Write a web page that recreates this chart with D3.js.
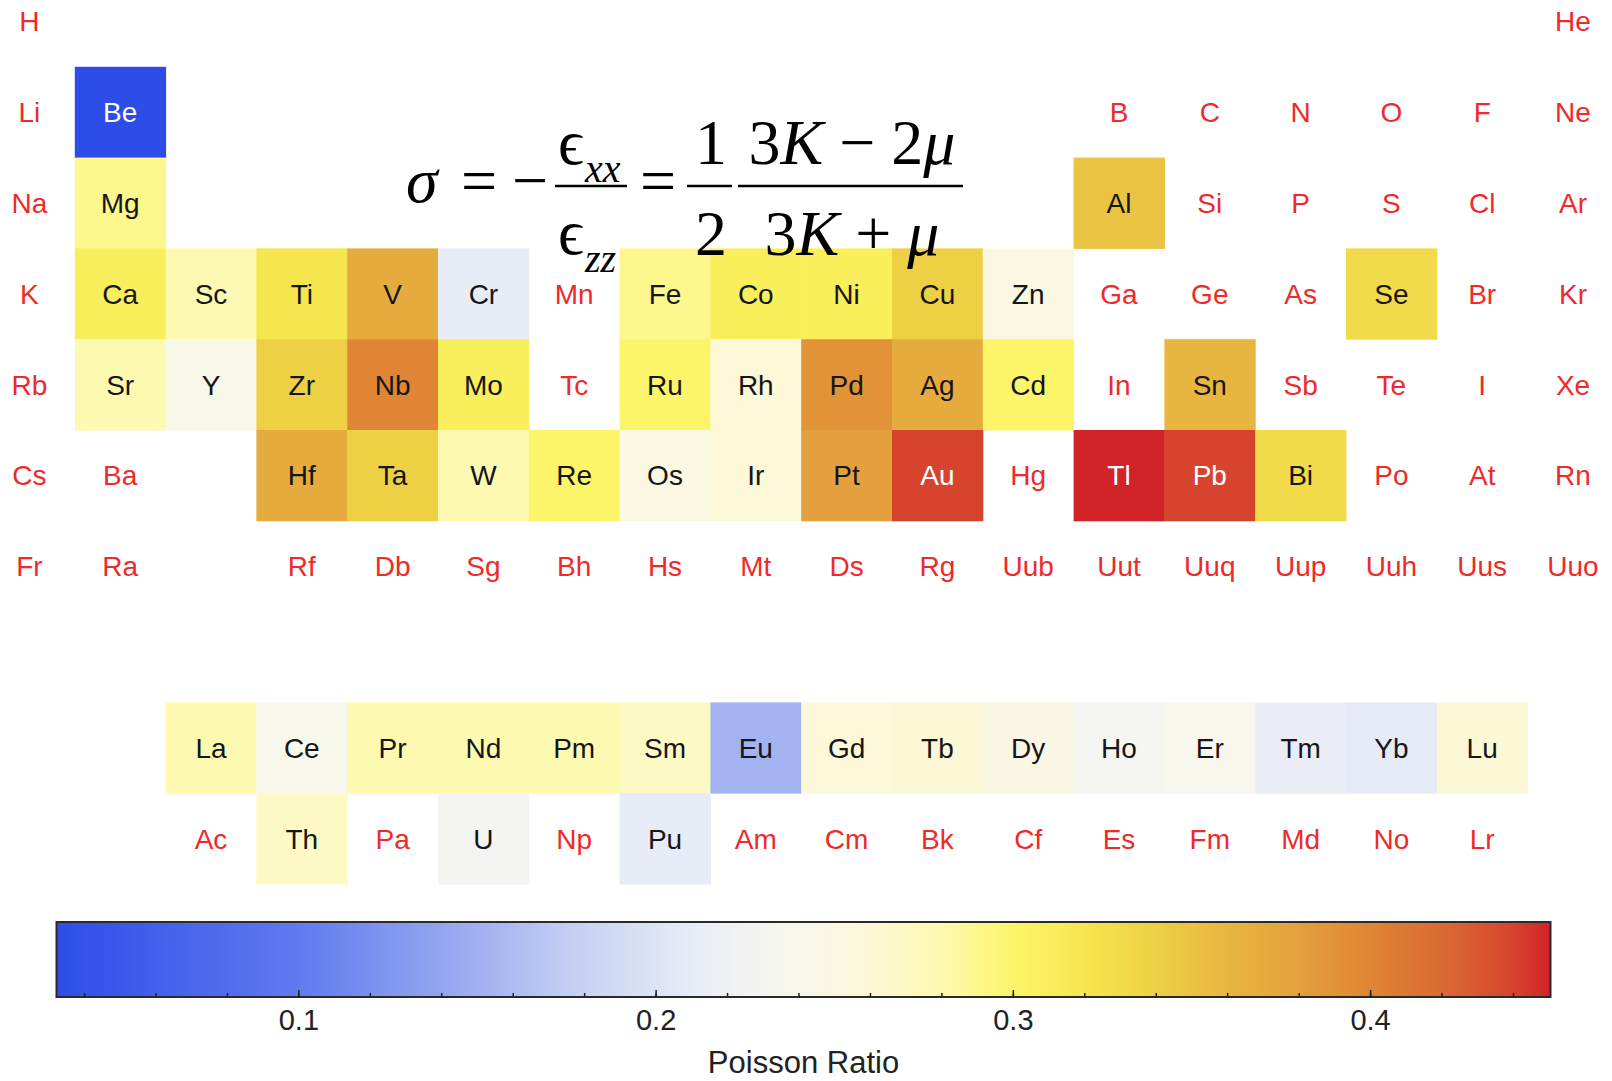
<!DOCTYPE html>
<html>
<head>
<meta charset="utf-8">
<script src="https://cdn.jsdelivr.net/npm/d3@7"></script>
<style>
  html, body { margin: 0; padding: 0; background: #fff; }
  svg { display: block; }
</style>
</head>
<body>
<svg id="chart" width="1612" height="1081"></svg>
<script>
// periodic table layout, "" = empty slot
const tableRows = [
  ["H","","","","","","","","","","","","","","","","","He"],
  ["Li","Be","","","","","","","","","","","B","C","N","O","F","Ne"],
  ["Na","Mg","","","","","","","","","","","Al","Si","P","S","Cl","Ar"],
  ["K","Ca","Sc","Ti","V","Cr","Mn","Fe","Co","Ni","Cu","Zn","Ga","Ge","As","Se","Br","Kr"],
  ["Rb","Sr","Y","Zr","Nb","Mo","Tc","Ru","Rh","Pd","Ag","Cd","In","Sn","Sb","Te","I","Xe"],
  ["Cs","Ba","","Hf","Ta","W","Re","Os","Ir","Pt","Au","Hg","Tl","Pb","Bi","Po","At","Rn"],
  ["Fr","Ra","","Rf","Db","Sg","Bh","Hs","Mt","Ds","Rg","Uub","Uut","Uuq","Uup","Uuh","Uus","Uuo"],
  [],
  ["","","La","Ce","Pr","Nd","Pm","Sm","Eu","Gd","Tb","Dy","Ho","Er","Tm","Yb","Lu",""],
  ["","","Ac","Th","Pa","U","Np","Pu","Am","Cm","Bk","Cf","Es","Fm","Md","No","Lr",""]
];

// Poisson ratio for the elements that have a value
const ratioSymbols = ["Be","Mg","Al","Ca","Sc","Ti","V","Cr","Fe","Co","Ni","Cu","Zn","Se",
  "Sr","Y","Zr","Nb","Mo","Ru","Rh","Pd","Ag","Cd","Sn",
  "Hf","Ta","W","Re","Os","Ir","Pt","Au","Tl","Pb","Bi",
  "La","Ce","Pr","Nd","Pm","Sm","Eu","Gd","Tb","Dy","Ho","Er","Tm","Yb","Lu",
  "Th","U","Pu"];
const ratioValues = [0.032,0.29,0.35,0.31,0.279,0.32,0.37,0.21,0.29,0.31,0.31,0.34,0.25,0.33,
  0.28,0.243,0.34,0.40,0.31,0.30,0.26,0.39,0.37,0.30,0.36,
  0.37,0.34,0.28,0.30,0.25,0.26,0.38,0.44,0.45,0.44,0.33,
  0.28,0.24,0.28,0.28,0.28,0.27,0.152,0.259,0.261,0.247,0.231,0.237,0.213,0.207,0.261,
  0.27,0.23,0.21];

// colour bar
const barDomain = [0.0323, 0.4505];
const majorTicks = [0.1, 0.2, 0.3, 0.4];
const minorTicks = d3.range(0.04, 0.45, 0.02);
const barTitle = "Poisson Ratio";

const rampStops = [0.0323,0.10,0.15,0.18,0.21,0.235,0.26,0.28,0.30,0.32,0.34,0.36,0.38,0.40,0.42,0.44,0.4505];
const rampColors = ["#2d4de9","#5f7bee","#a0b0f0","#c8d3f3","#e8ecf6","#f7f7f0","#fcf8d8","#fdf9b0",
  "#fcf56a","#f6e64e","#eed045","#e8b640","#e4a03c","#df8534","#db6a32","#d6442e","#d22228"];

const svg = d3.select("#chart");

const ratioOf = new Map(ratioSymbols.map((s, i) => [s, ratioValues[i]]));
const color = d3.scaleLinear().domain(rampStops).range(rampColors).interpolate(d3.interpolateRgb).clamp(true);

const step = 90.8;
const x = d3.scaleBand().domain(d3.range(1, 19)).range([-16, -16 + 18 * step]).padding(0);
const y = d3.scaleBand().domain(d3.range(1, 11)).range([-24, -24 + 10 * step]).padding(0);

// flatten layout
const cells = [];
tableRows.forEach((row, r) => row.forEach((sym, c) => {
  if (sym) cells.push({ sym, row: r + 1, col: c + 1, v: ratioOf.get(sym) });
}));

const g = svg.append("g");

g.selectAll("rect.cell")
  .data(cells.filter(d => d.v !== undefined))
  .enter().append("rect")
  .attr("class", "cell")
  .attr("x", d => x(d.col))
  .attr("y", d => y(d.row))
  .attr("width", x.bandwidth() + 0.5)
  .attr("height", y.bandwidth() + 0.5)
  .attr("fill", d => color(d.v));

const fs = 28;
g.selectAll("text.sym")
  .data(cells)
  .enter().append("text")
  .attr("class", "sym")
  .attr("x", d => x(d.col) + x.bandwidth() / 2)
  .attr("y", d => y(d.row) + y.bandwidth() / 2 + fs * 0.36)
  .attr("text-anchor", "middle")
  .style("font-family", "'Liberation Sans', Arial, sans-serif")
  .style("font-size", fs + "px")
  .attr("fill", d => {
    if (d.v === undefined) return "#ee2a2a";
    return (d.v < 0.08 || d.v > 0.42) ? "#ffffff" : "#161616";
  })
  .text(d => d.sym);

// colour bar
const barX = d3.scaleLinear().domain(barDomain).range([56.5, 1550.5]);
const barTop = 922, barBottom = 997;

const grad = svg.append("defs").append("linearGradient")
  .attr("id", "ramp").attr("x1", "0%").attr("x2", "100%").attr("y1", "0%").attr("y2", "0%");
d3.range(0, 1.0001, 0.01).forEach(t => {
  const v = barDomain[0] + t * (barDomain[1] - barDomain[0]);
  grad.append("stop").attr("offset", (t * 100) + "%").attr("stop-color", color(v));
});

svg.append("rect")
  .attr("x", barX(barDomain[0]))
  .attr("y", barTop)
  .attr("width", barX(barDomain[1]) - barX(barDomain[0]))
  .attr("height", barBottom - barTop)
  .attr("fill", "url(#ramp)")
  .attr("stroke", "#2a2a2a")
  .attr("stroke-width", 2);

// minor ticks
svg.append("g")
  .attr("transform", "translate(0," + barBottom + ")")
  .call(d3.axisBottom(barX).tickValues(minorTicks).tickSize(-4).tickFormat(""))
  .call(a => a.select(".domain").remove())
  .call(a => a.selectAll("line").attr("stroke", "#222").attr("stroke-width", 1.5));

// major ticks + labels
svg.append("g")
  .attr("transform", "translate(0," + barBottom + ")")
  .call(d3.axisBottom(barX).tickValues(majorTicks).tickSize(-7).tickPadding(12).tickFormat(d3.format(".1f")))
  .call(a => a.select(".domain").remove())
  .call(a => a.selectAll("line").attr("stroke", "#222").attr("stroke-width", 1.5))
  .call(a => a.selectAll("text")
    .attr("fill", "#222")
    .style("font-family", "'Liberation Sans', Arial, sans-serif")
    .style("font-size", "29px"));

svg.append("text")
  .attr("x", (barX(barDomain[0]) + barX(barDomain[1])) / 2)
  .attr("y", 1073)
  .attr("text-anchor", "middle")
  .attr("fill", "#222")
  .style("font-family", "'Liberation Sans', Arial, sans-serif")
  .style("font-size", "31px")
  .text(barTitle);

// formula
const f = svg.append("g")
  .style("font-family", "'Liberation Serif', 'DejaVu Serif', serif")
  .attr("fill", "#000");
const big = 64, small = 40;
const axisY = 186;

function txt(xp, yp, str, size, italic, anchor) {
  return f.append("text")
    .attr("x", xp).attr("y", yp)
    .attr("text-anchor", anchor || "start")
    .style("font-size", size + "px")
    .style("font-style", italic ? "italic" : "normal")
    .text(str);
}
function bar(x1, x2) {
  f.append("line").attr("x1", x1).attr("x2", x2).attr("y1", axisY).attr("y2", axisY)
    .attr("stroke", "#000").attr("stroke-width", 2.5);
}

txt(406, 202, "σ", big, true);
txt(461, 202, "=", big, false);
txt(512, 202, "\u2212", big, false);
bar(555, 627);
txt(558, 164, "\u03F5", big, false);
txt(585, 182, "xx", small, true);
txt(558, 254, "\u03F5", big, false);
txt(585, 272, "zz", small, true);
txt(640, 202, "=", big, false);
bar(687, 732);
txt(711, 164, "1", big, false, "middle");
txt(711, 255, "2", big, false, "middle");
bar(738, 963);

const num = f.append("text").attr("x", 852).attr("y", 164).attr("text-anchor", "middle").style("font-size", big + "px");
num.append("tspan").text("3");
num.append("tspan").style("font-style", "italic").text("K");
num.append("tspan").text(" \u2212 2");
num.append("tspan").style("font-style", "italic").text("μ");

const den = f.append("text").attr("x", 852).attr("y", 255).attr("text-anchor", "middle").style("font-size", big + "px");
den.append("tspan").text("3");
den.append("tspan").style("font-style", "italic").text("K");
den.append("tspan").text(" + ");
den.append("tspan").style("font-style", "italic").text("μ");
</script>
</body>
</html>
